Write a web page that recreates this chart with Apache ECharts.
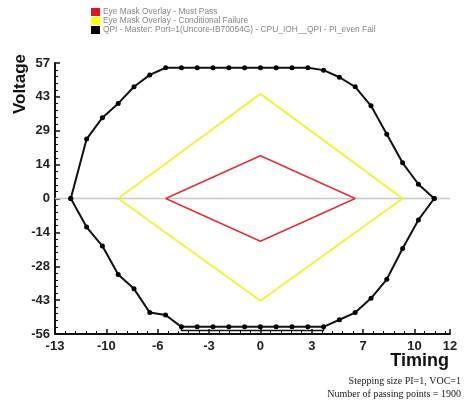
<!DOCTYPE html>
<html>
<head>
<meta charset="utf-8">
<script src="https://cdn.jsdelivr.net/npm/echarts@6/dist/echarts.min.js"></script>
<style>
  html, body { margin: 0; padding: 0; background: #fff; }
  #main { width: 464px; height: 401px; }
</style>
</head>
<body>
<div id="main"></div>
<script>
// eye contour (timing step = 1)
const timing = [-12, -11, -10, -9, -8, -7, -6, -5, -4, -3, -2, -1, 0, 1, 2, 3, 4, 5, 6, 7, 8, 9, 10, 11];
const voltUpper = [0, 25, 34, 40, 47, 52, 55, 55, 55, 55, 55, 55, 55, 55, 55, 55, 54, 51, 47, 39, 27, 15, 6, 0];
const voltLower = [0, -12, -20, -32, -38, -48, -49, -54, -54, -54, -54, -54, -54, -54, -54, -54, -54, -51, -48, -42, -34, -21, -9, 0];

// little bracket under the bottom plateau
const bracketT = [-5, -5, 4, 4];
const bracketV = [-54, -55.5, -55.5, -54];

// eye masks (diamonds)
const mustPassT = [-6, 0, 6, 0, -6];
const mustPassV = [0, 18, 0, -18, 0];
const condFailT = [-9, 0, 9, 0, -9];
const condFailV = [0, 44, 0, -43, 0];

// zero reference line
const zeroT = [-13, 12];
const zeroV = [0, 0];

// tick labels as printed on the original
const yLabels = ['-56', '-43', '-28', '-14', '0', '14', '29', '43', '57'];

const legendNames = [
  'Eye Mask Overlay - Must Pass',
  'Eye Mask Overlay - Conditional Failure',
  'QPI - Master: Port=1(Uncore-IB70054G) - CPU_IOH__QPI - PI_even Fail'
];

const pairs = (xs, ys) => xs.map((x, i) => [x, ys[i]]);

const contour = pairs(timing, voltUpper).concat(pairs(timing, voltLower).reverse());

const chart = echarts.init(document.getElementById('main'));

const axisFont = { fontFamily: 'Arial, "Liberation Sans"', fontWeight: 'bold', fontSize: 13, color: '#222' };

const option = {
  animation: false,
  backgroundColor: '#fff',
  grid: { left: 55, right: 14, top: 63, bottom: 67 },
  legend: {
    data: legendNames,
    orient: 'vertical',
    left: 86,
    top: 3,
    itemWidth: 9,
    itemHeight: 8,
    itemGap: 1,
    icon: 'rect',
    textStyle: { fontSize: 8.4, color: '#888', fontFamily: 'Arial, "Liberation Sans"', padding: [0, 0, 0, -2] }
  },
  xAxis: {
    type: 'value',
    min: -13,
    max: 12,
    interval: 3.25,
    axisLine: { onZero: false, lineStyle: { color: '#111', width: 2 } },
    axisTick: { inside: true, length: 5, lineStyle: { color: '#111', width: 1.5 } },
    minorTick: { show: true, splitNumber: 5, length: 3, lineStyle: { color: '#111' } },
    splitLine: { show: false },
    axisLabel: Object.assign({ margin: 6, formatter: v => String(Math.round(v)) }, axisFont)
  },
  yAxis: {
    type: 'value',
    min: -57,
    max: 57,
    interval: 14.25,
    axisLine: { onZero: false, lineStyle: { color: '#111', width: 2 } },
    axisTick: { inside: true, length: 5, lineStyle: { color: '#111', width: 1.5 } },
    minorTick: { show: true, splitNumber: 5, length: 3, lineStyle: { color: '#111' } },
    splitLine: { show: false },
    axisLabel: Object.assign({ margin: 5, formatter: v => yLabels[Math.round((v + 57) / 14.25)] }, axisFont)
  },
  series: [
    {
      name: 'zero',
      type: 'line',
      data: pairs(zeroT, zeroV),
      symbol: 'none',
      lineStyle: { color: '#c8c8c8', width: 1.5 },
      silent: true,
      z: 1
    },
    {
      name: legendNames[0],
      type: 'line',
      data: pairs(mustPassT, mustPassV),
      symbol: 'none',
      itemStyle: { color: '#e0141e' },
      lineStyle: { color: '#e0303a', width: 1.5 },
      z: 3
    },
    {
      name: legendNames[1],
      type: 'line',
      data: pairs(condFailT, condFailV),
      symbol: 'none',
      itemStyle: { color: '#ffff00' },
      lineStyle: { color: '#f2f23a', width: 2 },
      z: 2
    },
    {
      name: legendNames[2],
      type: 'line',
      data: contour,
      symbol: 'circle',
      symbolSize: 5,
      itemStyle: { color: '#000' },
      lineStyle: { color: '#111', width: 2 },
      z: 4
    },
    {
      name: 'bracket',
      type: 'line',
      data: pairs(bracketT, bracketV),
      symbol: 'none',
      lineStyle: { color: '#111', width: 1.5 },
      z: 4
    }
  ],
  graphic: [
    {
      type: 'text',
      x: 20,
      y: 84,
      rotation: Math.PI / 2,
      style: {
        text: 'Voltage',
        font: 'bold 17px Arial, "Liberation Sans"',
        fill: '#111',
        align: 'center',
        verticalAlign: 'middle'
      }
    },
    {
      type: 'text',
      x: 449,
      y: 361,
      style: {
        text: 'Timing',
        font: 'bold 18px Arial, "Liberation Sans"',
        fill: '#111',
        align: 'right',
        verticalAlign: 'middle'
      }
    },
    {
      type: 'text',
      x: 461,
      y: 381,
      style: {
        text: 'Stepping size PI=1, VOC=1',
        font: '10px "Liberation Serif", "DejaVu Serif", serif',
        fill: '#222',
        align: 'right',
        verticalAlign: 'middle'
      }
    },
    {
      type: 'text',
      x: 461,
      y: 394,
      style: {
        text: 'Number of passing points = 1900',
        font: '10px "Liberation Serif", "DejaVu Serif", serif',
        fill: '#222',
        align: 'right',
        verticalAlign: 'middle'
      }
    }
  ]
};

chart.setOption(option);
</script>
</body>
</html>
